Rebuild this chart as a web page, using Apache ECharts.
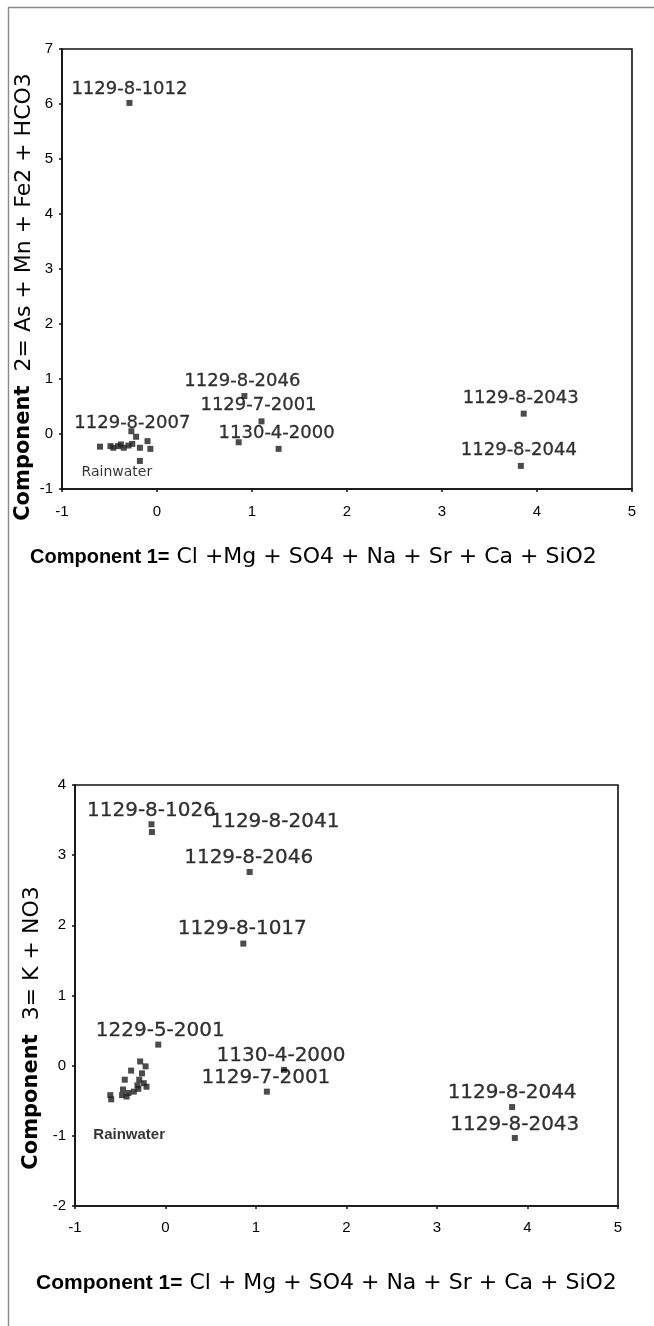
<!DOCTYPE html>
<html>
<head>
<meta charset="utf-8">
<script src="https://cdn.jsdelivr.net/npm/echarts@6/dist/echarts.min.js"></script>
<style>
html,body{margin:0;padding:0;background:#fff;}
#c{width:654px;height:1326px;}
</style>
</head>
<body>
<div id="c"></div>
<script>
// ---------- DATA ----------
const xTicks = [-1, 0, 1, 2, 3, 4, 5];
const topYTicks = [-1, 0, 1, 2, 3, 4, 5, 6, 7];
const botYTicks = [-2, -1, 0, 1, 2, 3, 4];

// Plot 1: Component 1 vs Component 2 (labelled samples)
const topNames = ['1129-8-1012', '1129-8-2046', '1129-7-2001', '1130-4-2000', '1129-8-2007', '1129-8-2043', '1129-8-2044', 'Rainwater'];
const topX = [-0.29, 0.92, 1.10, 1.28, -0.27, 3.86, 3.83, -0.18];
const topY = [6.02, 0.69, 0.23, -0.27, 0.05, 0.37, -0.58, -0.49];
// Plot 1: unlabelled samples
const topOtherX = [-0.60, -0.46, -0.41, -0.35, -0.30, -0.26, -0.22, -0.18, -0.10, -0.07, 0.86, -0.49, -0.38];
const topOtherY = [-0.23, -0.25, -0.22, -0.25, -0.21, -0.18, -0.05, -0.25, -0.13, -0.27, -0.15, -0.22, -0.19];

// Plot 2: Component 1 vs Component 3 (labelled samples)
const botNames = ['1129-8-1026', '1129-8-2041', '1129-8-2046', '1129-8-1017', '1229-5-2001', '1130-4-2000', '1129-7-2001', '1129-8-2044', '1129-8-2043', 'Rainwater'];
const botX = [-0.155, -0.15, 0.93, 0.86, -0.08, 1.31, 1.12, 3.83, 3.86, -0.60];
const botY = [3.44, 3.33, 2.76, 1.74, 0.30, -0.06, -0.37, -0.59, -1.03, -0.48];
// Plot 2: unlabelled samples
const botOtherX = [-0.61, -0.45, -0.38, -0.28, -0.22, -0.26, -0.29, -0.47, -0.41, -0.35, -0.30, -0.21, -0.43, -0.48, -0.24, -0.31];
const botOtherY = [-0.42, -0.20, -0.07, 0.06, -0.01, -0.11, -0.20, -0.34, -0.39, -0.37, -0.33, -0.30, -0.44, -0.42, -0.25, -0.28];

// ---------- STYLE (label placement, px offsets from the point) ----------
const topLabelOffset = {
  '1129-8-1012': [0, -14], '1129-8-2046': [-2, -15], '1129-7-2001': [-3, -16],
  '1130-4-2000': [-2, -16], '1129-8-2007': [1, -8], '1129-8-2043': [-3, -15],
  '1129-8-2044': [-2, -16], 'Rainwater': [-23, 11]
};
const botLabelOffset = {
  '1129-8-1026': [0, -13], '1129-8-2041': [123, -10], '1129-8-2046': [-1, -14],
  '1129-8-1017': [-1, -15], '1229-5-2001': [2, -14], '1130-4-2000': [-3, -14],
  '1129-7-2001': [-1, -14], '1129-8-2044': [0, -14], '1129-8-2043': [0, -13],
  'Rainwater': [18, 36]
};

const INK = '#111111';
const TXT = '#000000';
const labelFont = 'DejaVu Sans';
const tickFont = "'Liberation Sans Narrow', 'Liberation Sans', sans-serif";

function labelled(names, xs, ys, offsets, size, rainStyle) {
  return names.map((n, i) => {
    const lab = { offset: offsets[n] };
    if (n === 'Rainwater') Object.assign(lab, rainStyle);
    else lab.fontSize = size;
    return { name: n, value: [xs[i], ys[i]], label: lab };
  });
}
function plain(xs, ys) { return xs.map((x, i) => [x, ys[i]]); }

const markStyle = { color: '#1e1e1e' };
function xAxisCfg(idx) {
  return {
    type: 'value', gridIndex: idx, min: -1, max: 5, interval: 1,
    axisLine: { show: true, onZero: false, lineStyle: { color: INK, width: 1.6 } },
    axisTick: { show: true, length: 3, lineStyle: { color: INK, width: 1.5 } },
    axisLabel: { color: TXT, fontFamily: tickFont, fontSize: 15, margin: idx === 0 ? 15 : 14 },
    splitLine: { show: false }
  };
}
function yAxisCfg(idx, min, max) {
  return {
    type: 'value', gridIndex: idx, min: min, max: max, interval: 1,
    axisLine: { show: true, onZero: false, lineStyle: { color: INK, width: 1.6 } },
    axisTick: { show: true, length: 3, lineStyle: { color: INK, width: 1.5 } },
    axisLabel: { color: TXT, fontFamily: tickFont, fontSize: 15, margin: 9 },
    splitLine: { show: false }
  };
}
const ptLabel = (size) => ({
  show: true, position: 'inside', formatter: '{b}', color: TXT, fontFamily: labelFont, fontSize: size,
  align: 'center', verticalAlign: 'middle', textBorderColor: TXT, textBorderWidth: 0.3
});

const chart = echarts.init(document.getElementById('c'), null, { renderer: 'canvas' });
chart.setOption({
  backgroundColor: '#ffffff',
  animation: false,
  grid: [
    { left: 62, top: 49, width: 570, height: 440, show: true, borderColor: INK, borderWidth: 1.6, backgroundColor: 'transparent' },
    { left: 75, top: 785, width: 543, height: 421, show: true, borderColor: INK, borderWidth: 1.6, backgroundColor: 'transparent' }
  ],
  xAxis: [xAxisCfg(0), xAxisCfg(1)],
  yAxis: [yAxisCfg(0, topYTicks[0], topYTicks[topYTicks.length - 1]), yAxisCfg(1, botYTicks[0], botYTicks[botYTicks.length - 1])],
  series: [
    {
      type: 'scatter', xAxisIndex: 0, yAxisIndex: 0, symbol: 'rect', symbolSize: 6,
      itemStyle: markStyle, data: plain(topOtherX, topOtherY), silent: true
    },
    {
      type: 'scatter', xAxisIndex: 0, yAxisIndex: 0, symbol: 'rect', symbolSize: 6,
      itemStyle: markStyle, label: ptLabel(18),
      data: labelled(topNames, topX, topY, topLabelOffset, 18, { fontSize: 14, fontFamily: labelFont, textBorderWidth: 0 }),
      silent: true
    },
    {
      type: 'scatter', xAxisIndex: 1, yAxisIndex: 1, symbol: 'rect', symbolSize: 6,
      itemStyle: markStyle, data: plain(botOtherX, botOtherY), silent: true
    },
    {
      type: 'scatter', xAxisIndex: 1, yAxisIndex: 1, symbol: 'rect', symbolSize: 6,
      itemStyle: markStyle, label: ptLabel(20),
      data: labelled(botNames, botX, botY, botLabelOffset, 20, { fontSize: 15, fontWeight: 'bold', fontFamily: "'Liberation Sans', Arial, sans-serif", textBorderWidth: 0 }),
      silent: true
    }
  ],
  graphic: [
    { type: 'polyline', silent: true, shape: { points: [[8.5, 1326], [8.5, 7.5], [654, 7.5]] }, style: { stroke: '#8a8a8a', lineWidth: 1.4, fill: null } },
    {
      type: 'text', x: 24, y: 297, rotation: Math.PI / 2, silent: true,
      style: {
        text: '{b|Component}{n|  2= As + Mn + Fe2 + HCO3}', align: 'center', verticalAlign: 'middle',
        rich: {
          b: { fontFamily: 'DejaVu Sans', fontWeight: 'bold', fontSize: 21, fill: TXT },
          n: { fontFamily: 'DejaVu Sans', fontSize: 22, fill: TXT }
        }
      }
    },
    {
      type: 'text', x: 32, y: 1028, rotation: Math.PI / 2, silent: true,
      style: {
        text: '{b|Component}{n|  3= K + NO3}', align: 'center', verticalAlign: 'middle',
        rich: {
          b: { fontFamily: 'DejaVu Sans', fontWeight: 'bold', fontSize: 21, fill: TXT },
          n: { fontFamily: 'DejaVu Sans', fontSize: 22, fill: TXT }
        }
      }
    },
    {
      type: 'text', x: 30, y: 557, silent: true,
      style: {
        text: '{b|Component 1=}{n| Cl +Mg + SO4 + Na + Sr + Ca + SiO2}', align: 'left', verticalAlign: 'middle',
        rich: {
          b: { fontFamily: "'Liberation Sans', Arial, sans-serif", fontWeight: 'bold', fontSize: 20, fill: TXT },
          n: { fontFamily: 'DejaVu Sans', fontSize: 22, fill: TXT }
        }
      }
    },
    {
      type: 'text', x: 36, y: 1283, silent: true,
      style: {
        text: '{b|Component 1=}{n| Cl + Mg + SO4 + Na + Sr + Ca + SiO2}', align: 'left', verticalAlign: 'middle',
        rich: {
          b: { fontFamily: "'Liberation Sans', Arial, sans-serif", fontWeight: 'bold', fontSize: 21, fill: TXT },
          n: { fontFamily: 'DejaVu Sans', fontSize: 22, fill: TXT }
        }
      }
    }
  ]
});
</script>
</body>
</html>
